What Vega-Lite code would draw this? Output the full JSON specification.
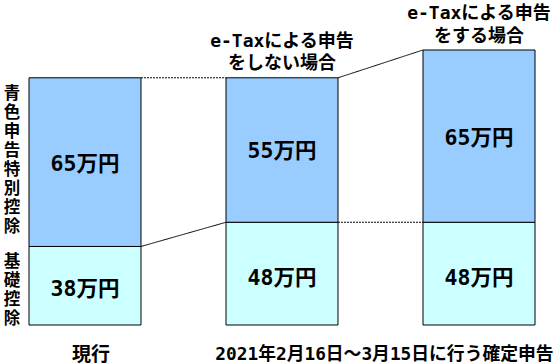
{
  "$schema": "https://vega.github.io/schema/vega-lite/v6.json",
  "autosize": {"type": "none"},
  "width": 506,
  "height": 275,
  "padding": {"left": 29, "top": 50, "right": 21, "bottom": 39},
  "background": "white",
  "config": {
    "view": {"stroke": null},
    "font": "DejaVu Sans Mono, Noto Sans CJK JP",
    "text": {"font": "DejaVu Sans Mono, Noto Sans CJK JP", "color": "black"}
  },
  "datasets": {
    "deductions": [
      {"cat": "現行", "part": "基礎控除", "amount": 38, "label": "38万円"},
      {"cat": "現行", "part": "青色申告特別控除", "amount": 65, "label": "65万円"},
      {"cat": "e-Taxによる申告\nをしない場合", "part": "基礎控除", "amount": 48, "label": "48万円"},
      {"cat": "e-Taxによる申告\nをしない場合", "part": "青色申告特別控除", "amount": 55, "label": "55万円"},
      {"cat": "e-Taxによる申告\nをする場合", "part": "基礎控除", "amount": 48, "label": "48万円"},
      {"cat": "e-Taxによる申告\nをする場合", "part": "青色申告特別控除", "amount": 65, "label": "65万円"}
    ],
    "connectors": [
      {"from": "現行", "to": "e-Taxによる申告\nをしない場合", "level_from": 103, "level_to": 103, "change": "同額"},
      {"from": "現行", "to": "e-Taxによる申告\nをしない場合", "level_from": 38, "level_to": 48, "change": "増額"},
      {"from": "e-Taxによる申告\nをしない場合", "to": "e-Taxによる申告\nをする場合", "level_from": 103, "level_to": 113, "change": "増額"},
      {"from": "e-Taxによる申告\nをしない場合", "to": "e-Taxによる申告\nをする場合", "level_from": 48, "level_to": 48, "change": "同額"}
    ],
    "groups": [
      {"cat": "現行", "label": "現行"},
      {"cat": "e-Taxによる申告\nをしない場合", "label": "2021年2月16日～3月15日に行う確定申告"}
    ]
  },
  "layer": [
    {
      "data": {"name": "deductions"},
      "mark": {"type": "bar", "stroke": "black", "strokeWidth": 1},
      "encoding": {
        "x": {
          "field": "cat", "type": "nominal",
          "scale": {"domain": ["現行", "e-Taxによる申告\nをしない場合", "e-Taxによる申告\nをする場合"], "paddingInner": 0.4315, "paddingOuter": 0},
          "axis": null
        },
        "y": {
          "field": "amount", "type": "quantitative", "stack": "zero",
          "scale": {"type": "pow", "exponent": 1.15, "domain": [0, 113], "nice": false},
          "axis": null
        },
        "color": {
          "field": "part", "type": "nominal",
          "scale": {"domain": ["基礎控除", "青色申告特別控除"], "range": ["#CCFFFF", "#99CCFF"]},
          "legend": null
        },
        "order": {"field": "part", "sort": "ascending"}
      }
    },
    {
      "data": {"name": "deductions"},
      "mark": {"type": "text", "fontSize": 21.5, "fontWeight": "bold", "baseline": "middle", "align": "center"},
      "encoding": {
        "x": {"field": "cat", "type": "nominal"},
        "y": {"field": "amount", "type": "quantitative", "stack": "zero", "bandPosition": 0.5},
        "detail": {"field": "part"},
        "order": {"field": "part", "sort": "ascending"},
        "text": {"field": "label"}
      }
    },
    {
      "data": {"name": "deductions"},
      "transform": [{"filter": "datum.cat === '現行'"}],
      "mark": {"type": "text", "fontSize": 16.5, "fontWeight": "bold", "baseline": "middle", "align": "center", "lineHeight": 19, "dx": -17, "dy": 16, "text": {"expr": "split(datum.part, '')"}},
      "encoding": {
        "x": {"field": "cat", "type": "nominal", "bandPosition": 0},
        "y": {"field": "amount", "type": "quantitative", "stack": "zero"},
        "detail": {"field": "part"},
        "order": {"field": "part", "sort": "ascending"}
      }
    },
    {
      "data": {"name": "deductions"},
      "transform": [{"filter": "datum.cat !== '現行'"}],
      "mark": {"type": "text", "fontSize": 18, "fontWeight": "bold", "baseline": "middle", "align": "center", "lineHeight": 22.5, "lineBreak": "\n", "dy": -36},
      "encoding": {
        "x": {"field": "cat", "type": "nominal"},
        "y": {"aggregate": "sum", "field": "amount", "type": "quantitative"},
        "text": {"field": "cat"}
      }
    },
    {
      "data": {"name": "connectors"},
      "mark": {"type": "rule", "color": "black", "strokeWidth": 1},
      "encoding": {
        "x": {"field": "from", "type": "nominal", "bandPosition": 1},
        "x2": {"field": "to", "bandPosition": 0},
        "y": {"field": "level_from", "type": "quantitative"},
        "y2": {"field": "level_to"},
        "strokeDash": {
          "field": "change", "type": "nominal",
          "scale": {"domain": ["増額", "同額"], "range": [[1, 0], [2, 1]]},
          "legend": null
        }
      }
    },
    {
      "data": {"name": "groups"},
      "transform": [{"filter": "datum.cat === '現行'"}],
      "mark": {"type": "text", "fontSize": 19, "fontWeight": "bold", "baseline": "middle", "align": "center", "dx": 6, "dy": 30},
      "encoding": {
        "x": {"field": "cat", "type": "nominal"},
        "y": {"datum": 0},
        "text": {"field": "label"}
      }
    },
    {
      "data": {"name": "groups"},
      "transform": [{"filter": "datum.cat !== '現行'"}],
      "mark": {"type": "text", "fontSize": 17.8, "fontWeight": "bold", "baseline": "middle", "align": "center", "dx": 4, "dy": 30},
      "encoding": {
        "x": {"field": "cat", "type": "nominal", "bandPosition": 1.379},
        "y": {"datum": 0},
        "text": {"field": "label"}
      }
    }
  ]
}
